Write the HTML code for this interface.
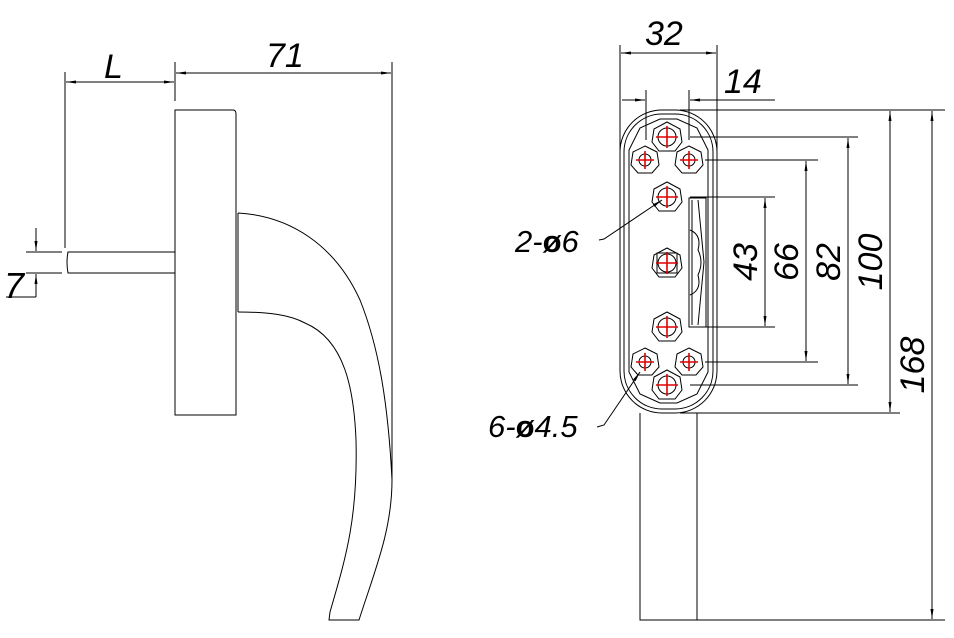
<!DOCTYPE html>
<html><head><meta charset="utf-8"><style>
html,body{margin:0;padding:0;background:#fff;width:954px;height:638px;overflow:hidden}
svg{display:block}
text{font-family:"Liberation Sans",sans-serif;font-style:italic;fill:#000;font-weight:normal}
</style></head><body>
<svg width="954" height="638" viewBox="0 0 954 638" xmlns="http://www.w3.org/2000/svg">
<defs>
<marker id="a" viewBox="0 0 10 4" refX="10" refY="2" markerWidth="10" markerHeight="4" orient="auto-start-reverse" markerUnits="userSpaceOnUse"><path d="M0,0.5 L10,2 L0,3.5z" fill="#000"/></marker>
<g id="hexB"><polygon points="0,-15 13,-8 15,5 8,14 -8,14 -15,5 -13,-8" fill="none" stroke="#000"/><circle r="9" fill="none" stroke="#000"/><path d="M-11,0H11M0,-11V11" stroke="#e00000" stroke-width="1.6"/></g>
<g id="hexS"><polygon points="0,-14 12,-8 14,5 7,13 -7,13 -14,5 -12,-8" fill="none" stroke="#000"/><circle r="6" fill="none" stroke="#000"/><path d="M-9,0H9M0,-9V9" stroke="#e00000" stroke-width="1.6"/></g>
</defs>
<g stroke="#000" stroke-width="1" fill="none">
<line x1="65" y1="72" x2="65" y2="248"/>
<line x1="175" y1="62" x2="175" y2="101"/>
<line x1="392" y1="62" x2="392" y2="480"/>
<line x1="66" y1="82" x2="174" y2="82" marker-start="url(#a)" marker-end="url(#a)"/>
<line x1="176" y1="73" x2="391" y2="73" marker-start="url(#a)" marker-end="url(#a)"/>
<path d="M175,110 H233 Q236,110 236,114 V415 H175 Z"/>
<path d="M175,252 H68 Q66,262 68,273 H175"/>
<line x1="26" y1="252" x2="62" y2="252"/>
<line x1="26" y1="273" x2="62" y2="273"/>
<line x1="36" y1="228" x2="36" y2="251" marker-end="url(#a)"/>
<line x1="36" y1="297" x2="36" y2="274" marker-end="url(#a)"/>
<line x1="6" y1="297" x2="36" y2="297"/>
<path d="M238,213 V312"/>
<path d="M238,213 C290,216 335,245 360,300 C378,345 388,400 392,480 C392,530 375,570 359,620 H329 L330,612 C345,560 358,520 356,440 C354,390 345,340 305,323 C290,315 270,312 238,312"/>
<line x1="620" y1="45" x2="620" y2="150"/>
<line x1="717" y1="45" x2="717" y2="150"/>
<line x1="621" y1="53" x2="716" y2="53" marker-start="url(#a)" marker-end="url(#a)"/>
<line x1="646" y1="90" x2="646" y2="140"/>
<line x1="689" y1="90" x2="689" y2="140"/>
<line x1="622" y1="100" x2="645" y2="100" marker-end="url(#a)"/>
<line x1="775" y1="100" x2="690" y2="100" marker-end="url(#a)"/>
<rect x="620" y="110" width="97" height="303" rx="42" ry="42"/>
<rect x="624" y="114" width="89" height="295" rx="38" ry="38"/>
<path d="M629,150 L640,128 L660,119 L677,119 L697,128 L708,150 V372 L697,394 L677,403 L660,403 L640,394 L629,372 Z"/>
<path d="M640,413 V620 H697 V413"/>
<line x1="697" y1="620" x2="945" y2="620"/>
<line x1="680" y1="110" x2="945" y2="110"/>
<line x1="680" y1="413" x2="900" y2="413"/>
<line x1="690" y1="137" x2="858" y2="137"/>
<line x1="690" y1="385" x2="858" y2="385"/>
<line x1="705" y1="160" x2="818" y2="160"/>
<line x1="705" y1="362" x2="818" y2="362"/>
<line x1="690" y1="197" x2="775" y2="197"/>
<line x1="690" y1="327" x2="775" y2="327"/>
<line x1="765" y1="198" x2="765" y2="326" marker-start="url(#a)" marker-end="url(#a)"/>
<line x1="806" y1="161" x2="806" y2="361" marker-start="url(#a)" marker-end="url(#a)"/>
<line x1="848" y1="138" x2="848" y2="384" marker-start="url(#a)" marker-end="url(#a)"/>
<line x1="890" y1="111" x2="890" y2="412" marker-start="url(#a)" marker-end="url(#a)"/>
<line x1="932" y1="111" x2="932" y2="619" marker-start="url(#a)" marker-end="url(#a)"/>
<rect x="689" y="198" width="17" height="129"/>
<path d="M692,200 L692,325 M698,200 L704,262 L698,325"/>
<path d="M690,230 Q702,235 698,250 Q704,262 698,275 Q702,290 690,295"/>
<use href="#hexB" x="667" y="137"/>
<use href="#hexS" x="645" y="160"/>
<use href="#hexS" x="689" y="160"/>
<use href="#hexB" x="667" y="197"/>
<use href="#hexB" x="667" y="327"/>
<use href="#hexS" x="645" y="362"/>
<use href="#hexS" x="689" y="362"/>
<use href="#hexB" x="667" y="385"/>
<polygon points="667,248 680,255 682,268 675,277 659,277 652,268 654,255" />
<rect x="657" y="253" width="20" height="20"/>
<circle cx="667" cy="263" r="9"/>
<path d="M656,263H678M667,252V274" stroke="#e00000" stroke-width="1.6"/>
<path d="M599,240 L604,239 L662,200" marker-end="url(#a)"/>
<path d="M597,427 L604,425 L640,372" marker-end="url(#a)"/>
</g>
<text x="104" y="78" font-size="34">L</text>
<text x="266" y="67" font-size="34">71</text>
<text x="4" y="298" font-size="36">7</text>
<text x="645" y="45" font-size="34">32</text>
<text x="724" y="93" font-size="34">14</text>
<text x="515" y="252" font-size="31">2-<tspan font-weight="bold" font-style="normal">ø</tspan>6</text>
<text x="488" y="437" font-size="31">6-<tspan font-weight="bold" font-style="normal">ø</tspan>4.5</text>
<g font-size="34">
<text transform="translate(757,262) rotate(-90)" text-anchor="middle">43</text>
<text transform="translate(798,262) rotate(-90)" text-anchor="middle">66</text>
<text transform="translate(840,262) rotate(-90)" text-anchor="middle">82</text>
<text transform="translate(882,262) rotate(-90)" text-anchor="middle">100</text>
<text transform="translate(924,365) rotate(-90)" text-anchor="middle">168</text>
</g>
</svg>
</body></html>
